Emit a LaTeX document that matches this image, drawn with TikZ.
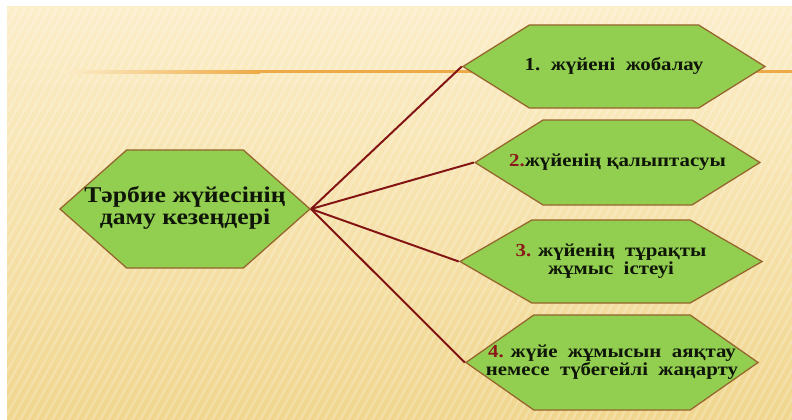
\documentclass[tikz,border=0pt]{standalone}
\usepackage{fontspec}
\setmainfont{Liberation Serif}
\newfontfamily\slidefont[FakeStretch=1.14]{Liberation Serif}
\usetikzlibrary{shapes.symbols}
\definecolor{hexfill}{RGB}{146,206,80}
\definecolor{hexline}{RGB}{150,100,45}
\definecolor{linkred}{RGB}{130,20,20}
\definecolor{numred}{RGB}{140,25,25}
\definecolor{txtdark}{RGB}{15,22,8}
\definecolor{bgtop}{RGB}{252,238,202}
\definecolor{bgbottom}{RGB}{240,214,142}
\definecolor{rulebar}{RGB}{238,170,70}
\tikzset{
  stage/.style={
    signal,
    signal to=west and east,
    inner sep=0pt,
    align=center,
    draw=hexline,
    line width=0.9pt,
    fill=hexfill,
    text=txtdark,
    font=\slidefont\bfseries\fontsize{13}{12}\selectfont
    },
  mainstage/.style={
    stage,
    font=\slidefont\bfseries\fontsize{16}{15.5}\selectfont
    },
  link/.style={draw=linkred,line width=1.4pt},
}
% text that does not widen the hexagon
\newcommand{\stagetext}[1]{\makebox[0pt]{\begin{tabular}{@{}c@{}}#1\end{tabular}}}
\newcommand{\num}[1]{\textcolor{numred}{#1}}

\begin{document}
\begin{tikzpicture}[x=0.025cm,y=-0.025cm]
\useasboundingbox (0,0) rectangle (792,420);
% slide background
\fill[white] (0,0) rectangle (792,420);
\shade[top color=bgtop,bottom color=bgbottom] (7,7) rectangle (792,420);
\begin{scope}
\clip (7,7) rectangle (792,420);
\foreach \i in {-300,-292,...,800}
  \draw[white,opacity=0.22,line width=1.6pt] (\i,420) -- (\i+230,7);
\end{scope}
\shade[left color=bgtop,right color=rulebar] (60,70.5) rectangle (260,73.5);
\fill[rulebar] (259,70.5) rectangle (792,73.5);
% stages
\node (root) [mainstage,minimum width=6.25cm,minimum height=2.95cm,signal pointer angle=83] at (185,209)
  {\stagetext{Тәрбие жүйесінің\\даму кезеңдері}};
\node (s1) [stage,minimum width=7.55cm,minimum height=2.08cm,signal pointer angle=64] at (614,66.5)
  {\stagetext{1.\ \ жүйені\ \ жобалау}};
\node (s2) [stage,minimum width=7.12cm,minimum height=2.12cm,signal pointer angle=64] at (617.5,162.5)
  {\stagetext{\num{2.}жүйенің\ қалыптасуы}};
\node (s3) [stage,minimum width=7.55cm,minimum height=2.08cm,signal pointer angle=60] at (611,261.5)
  {\stagetext{\num{3.} жүйенің\ \ тұрақты\\жұмыс\ \ істеуі}};
\node (s4) [stage,minimum width=7.3cm,minimum height=2.38cm,signal pointer angle=70] at (612,362.5)
  {\stagetext{\num{4.} жүйе\ \ жұмысын\ \ аяқтау\\немесе\ \ түбегейлі\ \ жаңарту}};
% links
\foreach \s in {s1,s2,s3,s4}
  \draw[link] (root.east) -- (\s.west);
\end{tikzpicture}
\end{document}
